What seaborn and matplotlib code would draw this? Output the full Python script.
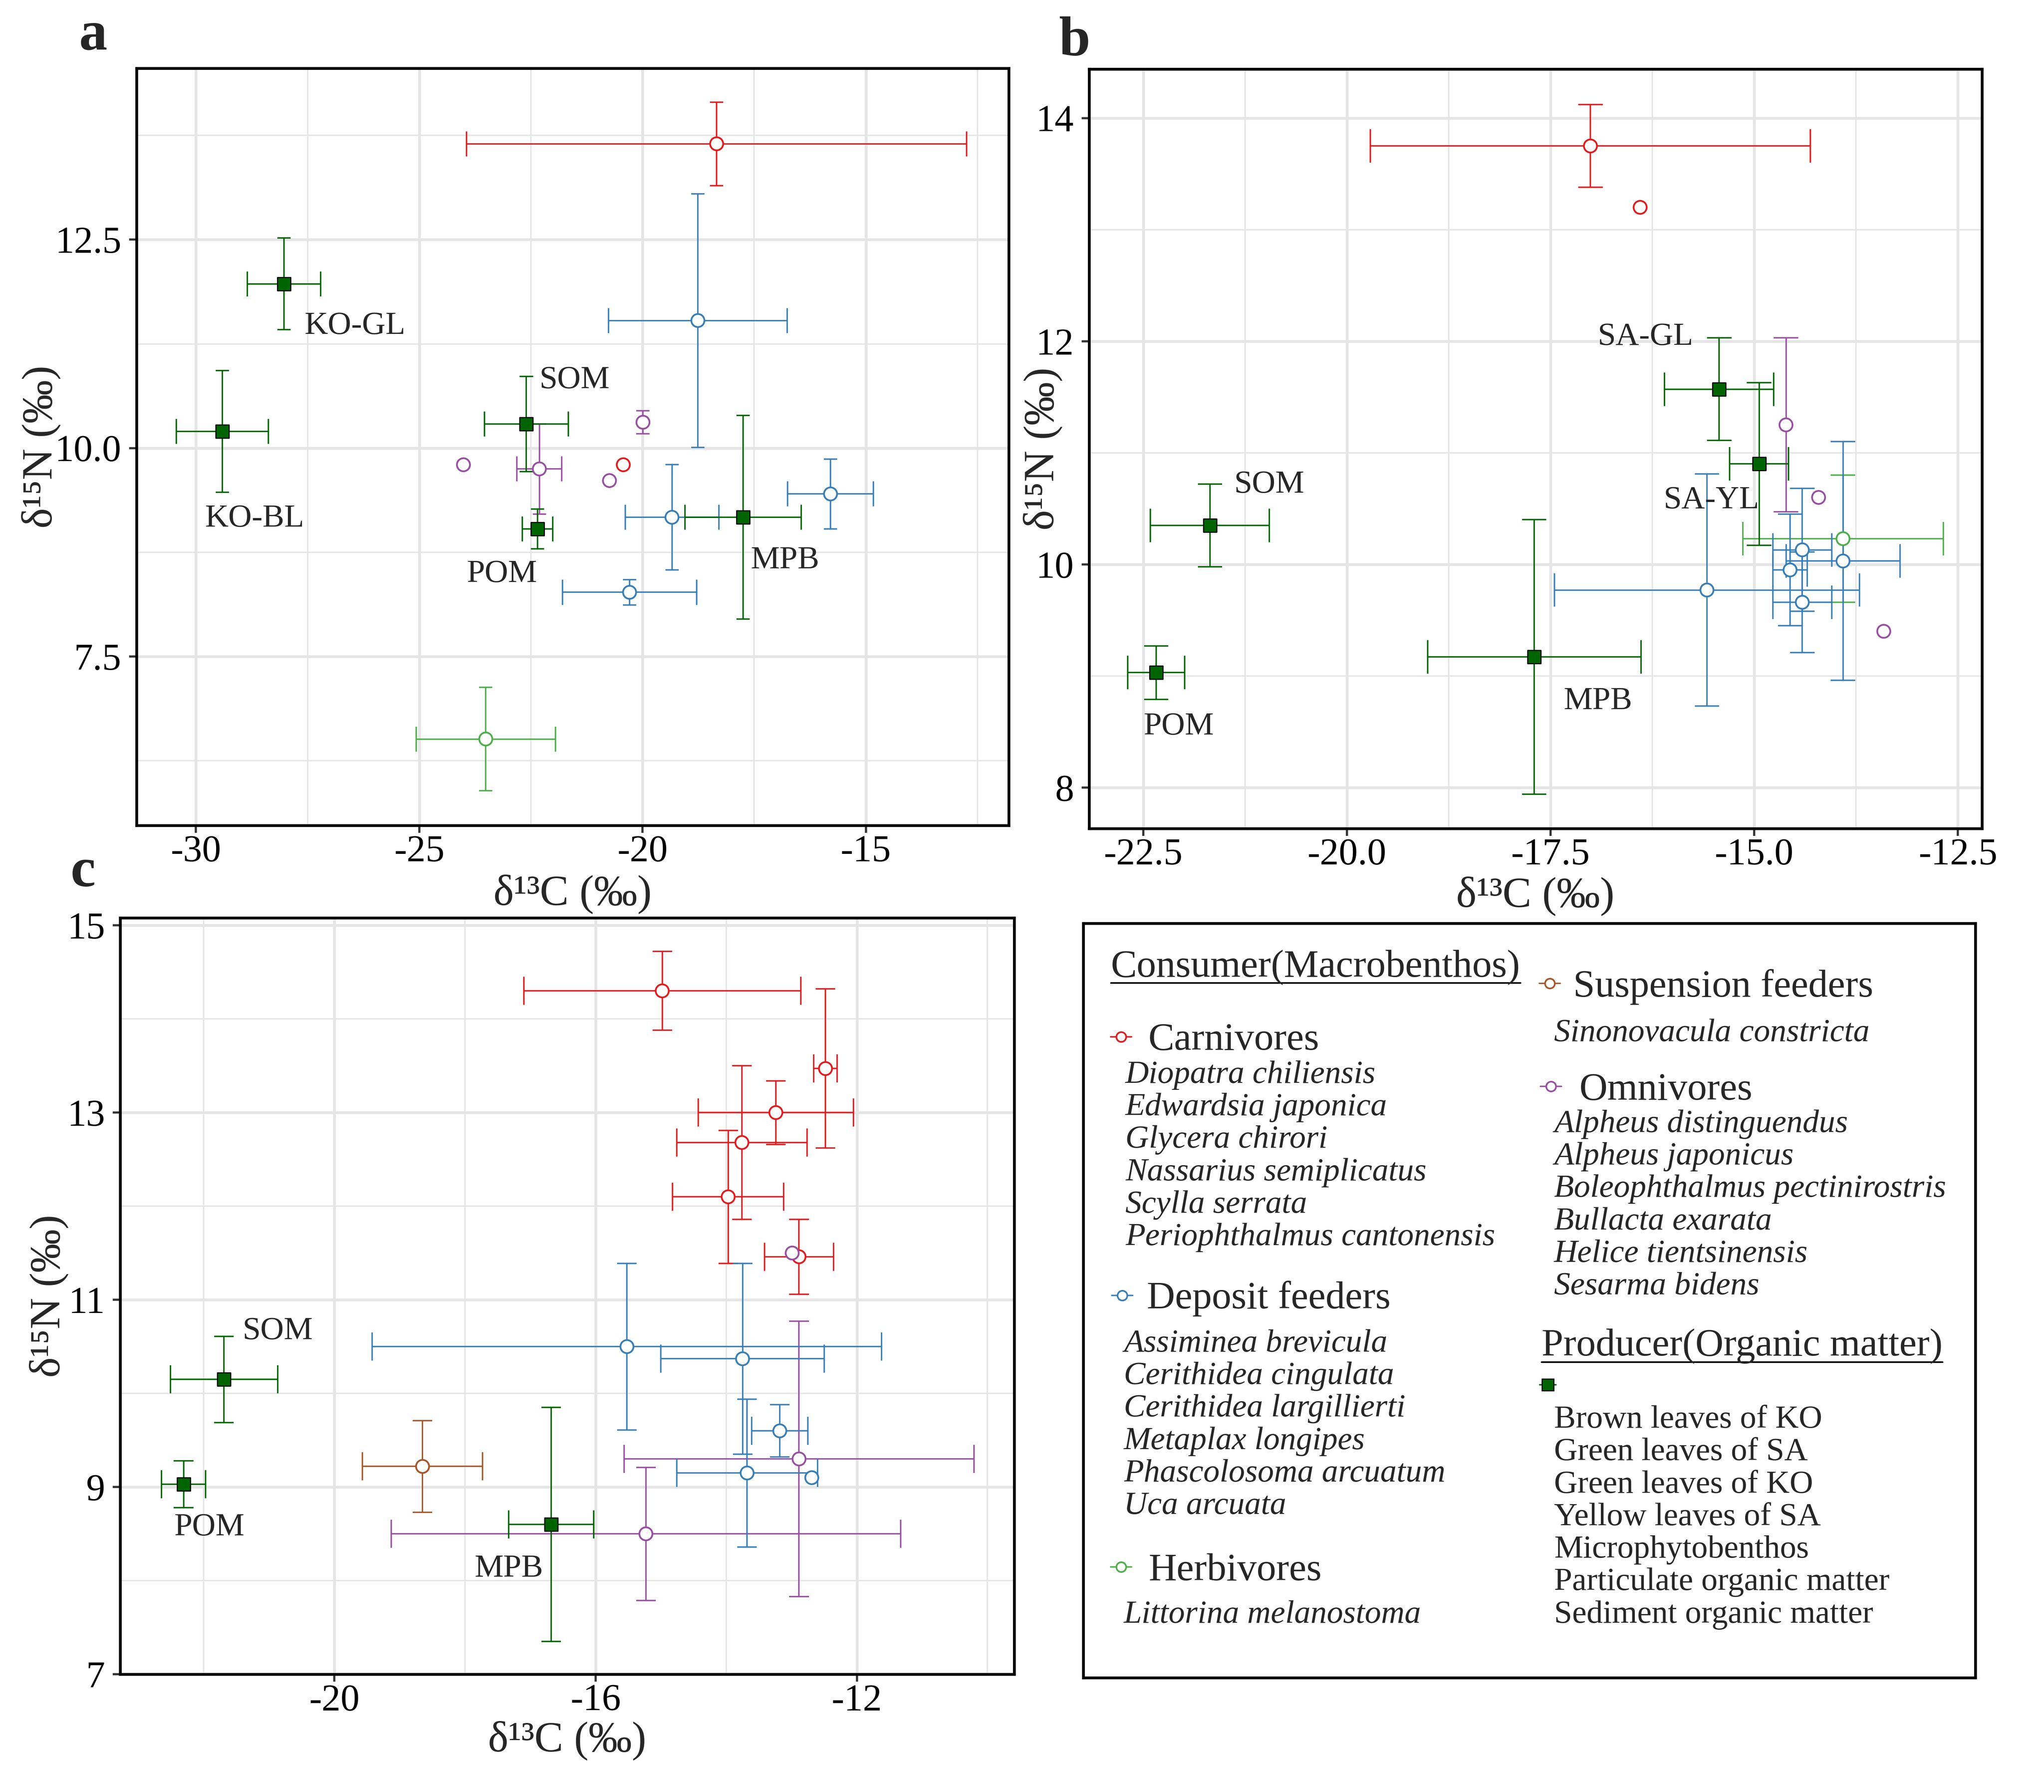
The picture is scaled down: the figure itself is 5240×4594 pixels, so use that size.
import numpy as np
import pandas as pd
import matplotlib
matplotlib.use('Agg')
import matplotlib.pyplot as plt
from matplotlib.ticker import FormatStrFormatter
import seaborn as sns

sns.set_theme(style='white')
plt.rcParams['font.family'] = ['Liberation Serif', 'DejaVu Serif']
plt.rcParams['axes.unicode_minus'] = False

nan = np.nan

# ---- panel a ----
a_group = ['Carnivores', 'Carnivores',
           'Deposit feeders', 'Deposit feeders', 'Deposit feeders', 'Deposit feeders',
           'Omnivores', 'Omnivores', 'Omnivores', 'Omnivores',
           'Herbivores',
           'Producer', 'Producer', 'Producer', 'Producer', 'Producer']
a_label = ['', '', '', '', '', '', '', '', '', '', '', 'KO-GL', 'KO-BL', 'SOM', 'POM', 'MPB']
a_c13 = [-18.34, -20.43, -18.76, -19.34, -20.29, -15.79, -24.01, -22.31, -20.74, -19.99,
         -23.51, -28.03, -29.41, -22.60, -22.35, -17.75]
a_n15 = [13.65, 9.80, 11.53, 9.17, 8.27, 9.45, 9.80, 9.75, 9.61, 10.31,
         6.51, 11.97, 10.20, 10.29, 9.03, 9.17]
a_c13_sd = [5.6, nan, 2.0, 1.05, 1.5, 0.96, nan, 0.5, nan, nan,
            1.56, 0.82, 1.03, 0.94, 0.34, 1.30]
a_n15_sd = [0.5, nan, 1.52, 0.63, 0.15, 0.42, nan, 0.54, nan, 0.14,
            0.62, 0.55, 0.73, 0.57, 0.24, 1.22]

# ---- panel b ----
b_group = ['Carnivores', 'Carnivores',
           'Omnivores', 'Omnivores', 'Omnivores',
           'Herbivores',
           'Deposit feeders', 'Deposit feeders', 'Deposit feeders', 'Deposit feeders', 'Deposit feeders',
           'Producer', 'Producer', 'Producer', 'Producer', 'Producer']
b_label = ['', '', '', '', '', '', '', '', '', '', '', 'SA-GL', 'SA-YL', 'SOM', 'POM', 'MPB']
b_c13 = [-17.01, -16.40, -14.61, -14.21, -13.41, -13.91, -15.58, -14.41, -14.56, -13.91,
         -14.41, -15.43, -14.94, -21.68, -22.34, -17.70]
b_n15 = [13.75, 13.20, 11.25, 10.60, 9.40, 10.23, 9.77, 10.13, 9.95, 10.03,
         9.66, 11.57, 10.90, 10.35, 9.03, 9.17]
b_c13_sd = [2.7, nan, nan, nan, nan, 1.23, 1.87, 0.36, 0.21, 0.70,
            0.36, 0.67, 0.36, 0.73, 0.35, 1.31]
b_n15_sd = [0.37, nan, 0.78, nan, nan, 0.57, 1.04, 0.55, 0.50, 1.07,
            0.45, 0.46, 0.73, 0.37, 0.24, 1.23]

# ---- panel c ----
c_group = ['Carnivores'] * 6 + ['Omnivores'] * 3 + ['Deposit feeders'] * 5 + \
          ['Suspension feeders'] + ['Producer'] * 3
c_label = [''] * 15 + ['SOM', 'POM', 'MPB']
c_c13 = [-14.98, -12.48, -13.24, -13.76, -13.97, -12.885,
         -12.99, -12.885, -15.23,
         -15.52, -13.75, -13.18, -13.68, -12.69,
         -18.65,
         -21.69, -22.31, -16.68]
c_n15 = [14.30, 13.47, 13.00, 12.68, 12.10, 11.46,
         11.50, 9.30, 8.50,
         10.50, 10.37, 9.60, 9.15, 9.10,
         9.22,
         10.15, 9.03, 8.60]
c_c13_sd = [2.12, 0.18, 1.19, 1.00, 0.85, 0.53,
            nan, 2.68, 3.90,
            3.90, 1.25, 0.43, 1.08, nan,
            0.92,
            0.82, 0.34, 0.65]
c_n15_sd = [0.42, 0.85, 0.34, 0.82, 0.71, 0.40,
            nan, 1.47, 0.71,
            0.89, 1.02, 0.28, 0.79, nan,
            0.49,
            0.46, 0.25, 1.25]

# ---- legend texts ----
carn_species = ['Diopatra chiliensis', 'Edwardsia japonica', 'Glycera chirori',
                'Nassarius semiplicatus', 'Scylla serrata', 'Periophthalmus cantonensis']
depo_species = ['Assiminea brevicula', 'Cerithidea cingulata', 'Cerithidea largillierti',
                'Metaplax longipes', 'Phascolosoma arcuatum', 'Uca arcuata']
herb_species = ['Littorina melanostoma']
susp_species = ['Sinonovacula constricta']
omni_species = ['Alpheus distinguendus', 'Alpheus japonicus', 'Boleophthalmus pectinirostris',
                'Bullacta exarata', 'Helice tientsinensis', 'Sesarma bidens']
producer_names = ['Brown leaves of KO', 'Green leaves of SA', 'Green leaves of KO',
                  'Yellow leaves of SA', 'Microphytobenthos', 'Particulate organic matter',
                  'Sediment organic matter']

palette = {'Carnivores': '#E41A1C', 'Deposit feeders': '#377EB8', 'Herbivores': '#4DAF4A',
           'Suspension feeders': '#A65628', 'Omnivores': '#984EA3', 'Producer': '#006400'}

GRID = '#E5E5E5'
ERR_LW = 1.3
CAP = 0.15  # half cap width in data units (like ggplot width = 0.3)


def make_df(group, label, c13, n15, c13_sd, n15_sd):
    return pd.DataFrame({'group': group, 'label': label, 'c13': c13, 'n15': n15,
                         'c13_sd': c13_sd, 'n15_sd': n15_sd})


def draw_err(ax, d, color):
    dx = d.dropna(subset=['c13_sd'])
    if len(dx):
        ax.hlines(dx.n15, dx.c13 - dx.c13_sd, dx.c13 + dx.c13_sd, colors=color, lw=ERR_LW, zorder=3)
        ax.vlines(pd.concat([dx.c13 - dx.c13_sd, dx.c13 + dx.c13_sd]),
                  pd.concat([dx.n15, dx.n15]) - CAP, pd.concat([dx.n15, dx.n15]) + CAP,
                  colors=color, lw=ERR_LW, zorder=3)
    dy = d.dropna(subset=['n15_sd'])
    if len(dy):
        ax.vlines(dy.c13, dy.n15 - dy.n15_sd, dy.n15 + dy.n15_sd, colors=color, lw=ERR_LW, zorder=3)
        ax.hlines(pd.concat([dy.n15 - dy.n15_sd, dy.n15 + dy.n15_sd]),
                  pd.concat([dy.c13, dy.c13]) - CAP, pd.concat([dy.c13, dy.c13]) + CAP,
                  colors=color, lw=ERR_LW, zorder=3)


def panel(ax, df, xlim, ylim, xmaj, xmin, ymaj, ymin, xfmt, yfmt, offsets, xl_y, yl_x):
    ax.set_xlim(xlim)
    ax.set_ylim(ylim)
    ax.set_xticks(xmaj)
    ax.set_xticks(xmin, minor=True)
    ax.set_yticks(ymaj)
    ax.set_yticks(ymin, minor=True)
    ax.xaxis.set_major_formatter(FormatStrFormatter(xfmt))
    ax.yaxis.set_major_formatter(FormatStrFormatter(yfmt))
    ax.grid(which='major', color=GRID, lw=2.6)
    ax.grid(which='minor', color=GRID, lw=1.3)
    ax.set_axisbelow(True)
    ax.tick_params(which='major', bottom=True, left=True, direction='out', length=7,
                   width=2, color='#333333', labelsize=35, labelcolor='black', pad=2)
    ax.tick_params(axis='y', which='major', pad=7)
    ax.tick_params(which='minor', length=0)
    for s in ax.spines.values():
        s.set_color('black')
        s.set_linewidth(2.6)
        s.set_zorder(10)

    for g, d in df.groupby('group', sort=False):
        draw_err(ax, d, palette[g])

    cons = df[df.group != 'Producer']
    sns.scatterplot(data=cons, x='c13', y='n15', hue='group', palette=palette, s=145,
                    linewidth=1.6, legend=False, ax=ax, zorder=5)
    coll = ax.collections[-1]
    coll.set_edgecolors(coll.get_facecolors())
    coll.set_facecolors('white')

    prod = df[df.group == 'Producer']
    sns.scatterplot(data=prod, x='c13', y='n15', color='#006400', marker='s', s=150,
                    edgecolor='black', linewidth=1.0, legend=False, ax=ax, zorder=6)
    for r in prod.itertuples():
        dx, dy, ha = offsets[r.label]
        ax.annotate(r.label, (r.c13, r.n15), xytext=(dx, dy), textcoords='offset points',
                    ha=ha, va='baseline', fontsize=30, zorder=7)

    ax.set_xlabel('δ¹³C (‰)', fontsize=40)
    ax.set_ylabel('δ¹⁵N (‰)', fontsize=40)
    ax.xaxis.label.set_verticalalignment('baseline')
    ax.xaxis.set_label_coords(0.5, xl_y)
    ax.yaxis.label.set_verticalalignment('baseline')
    ax.yaxis.set_label_coords(yl_x, 0.5)


fig = plt.figure(figsize=(26.2, 22.97), dpi=200)
ax_a = fig.add_axes([0.0668, 0.5394, 0.4267, 0.4225])
ax_b = fig.add_axes([0.5328, 0.5377, 0.4368, 0.4238])
ax_c = fig.add_axes([0.0588, 0.0657, 0.4374, 0.4221])

df_a = make_df(a_group, a_label, a_c13, a_n15, a_c13_sd, a_n15_sd)
df_b = make_df(b_group, b_label, b_c13, b_n15, b_c13_sd, b_n15_sd)
df_c = make_df(c_group, c_label, c_c13, c_n15, c_c13_sd, c_n15_sd)

panel(ax_a, df_a, (-31.33, -11.80), (5.474, 14.556),
      [-30, -25, -20, -15], [-27.5, -22.5, -17.5, -12.5],
      [7.5, 10.0, 12.5], [6.25, 8.75, 11.25, 13.75], '%d', '%.1f',
      {'KO-GL': (19, -46, 'left'), 'KO-BL': (30, -88, 'center'), 'SOM': (12, 33, 'left'),
       'POM': (-33, -49, 'center'), 'MPB': (7, -47, 'left')},
      -0.105, -0.0975)

panel(ax_b, df_b, (-23.164, -12.206), (7.633, 14.44),
      [-22.5, -20.0, -17.5, -15.0, -12.5], [-21.25, -18.75, -16.25, -13.75],
      [8, 10, 12, 14], [9, 11, 13], '%.1f', '%d',
      {'SA-GL': (-24, 41, 'right'), 'SA-YL': (-44, -41, 'center'), 'SOM': (22, 30, 'left'),
       'POM': (21, -57, 'center'), 'MPB': (59, -48, 'center')},
      -0.103, -0.040)

panel(ax_c, df_c, (-23.28, -9.59), (7.0, 15.08),
      [-20, -16, -12], [-22, -18, -14, -10],
      [7, 9, 11, 13, 15], [8, 10, 12, 14], '%d', '%d',
      {'SOM': (17, 37, 'left'), 'POM': (24, -47, 'center'), 'MPB': (-39, -48, 'center')},
      -0.102, -0.068)

fig.text(0.0387, 0.9724, 'a', fontsize=52, fontweight='bold', va='baseline')
fig.text(0.518, 0.969, 'b', fontsize=52, fontweight='bold', va='baseline')
fig.text(0.0345, 0.5054, 'c', fontsize=52, fontweight='bold', va='baseline')

# ---- legend box (coordinates in image pixels) ----
ax_l = fig.add_axes([0.530, 0.0638, 0.4365, 0.4210])
ax_l.set_xlim(2777, 5064)
ax_l.set_ylim(4301, 2367)
ax_l.set_xticks([])
ax_l.set_yticks([])
ax_l.grid(False)
for s in ax_l.spines.values():
    s.set_color('black')
    s.set_linewidth(2.6)

STEP = 83.3


def key_circle(x, y, color):
    ax_l.plot([x - 27, x + 27], [y, y], color=color, lw=1.3)
    ax_l.plot([x], [y], marker='o', ms=9, mfc='white', mec=color, mew=1.5)


def species_block(names, x, y0):
    for i, n in enumerate(names):
        ax_l.text(x, y0 + i * STEP, n, fontsize=30, style='italic', va='baseline')


h1 = ax_l.text(2848, 2504, 'Consumer(Macrobenthos)', fontsize=36, va='baseline')
key_circle(2874, 2658, palette['Carnivores'])
ax_l.text(2944, 2691, 'Carnivores', fontsize=36, va='baseline')
species_block(carn_species, 2885, 2776)
key_circle(2877, 3321, palette['Deposit feeders'])
ax_l.text(2940, 3354, 'Deposit feeders', fontsize=36, va='baseline')
species_block(depo_species, 2881, 3465)
key_circle(2874, 4017, palette['Herbivores'])
ax_l.text(2944, 4051, 'Herbivores', fontsize=36, va='baseline')
species_block(herb_species, 2881, 4160)

key_circle(3973, 2521, palette['Suspension feeders'])
ax_l.text(4033, 2555, 'Suspension feeders', fontsize=36, va='baseline')
species_block(susp_species, 3984, 2669)
key_circle(3976, 2785, palette['Omnivores'])
ax_l.text(4049, 2819, 'Omnivores', fontsize=36, va='baseline')
species_block(omni_species, 3984, 2902)
h2 = ax_l.text(3952, 3475, 'Producer(Organic matter)', fontsize=36, va='baseline')
ax_l.plot([3947, 3989], [3550, 3550], color='#006400', lw=1.3)
ax_l.plot([3968], [3550], marker='s', ms=11, mfc='#006400', mec='black', mew=1.0)
for i, n in enumerate(producer_names):
    ax_l.text(3984, 3660 + i * STEP, n, fontsize=30, va='baseline')

fig.canvas.draw()
r = fig.canvas.get_renderer()
for h, yu in [(h1, 2520), (h2, 3492)]:
    bb = h.get_window_extent(r).transformed(ax_l.transData.inverted())
    ax_l.plot([bb.x0, bb.x1], [yu, yu], color='black', lw=1.5)

fig.savefig('out.png', dpi=200, facecolor='white')
